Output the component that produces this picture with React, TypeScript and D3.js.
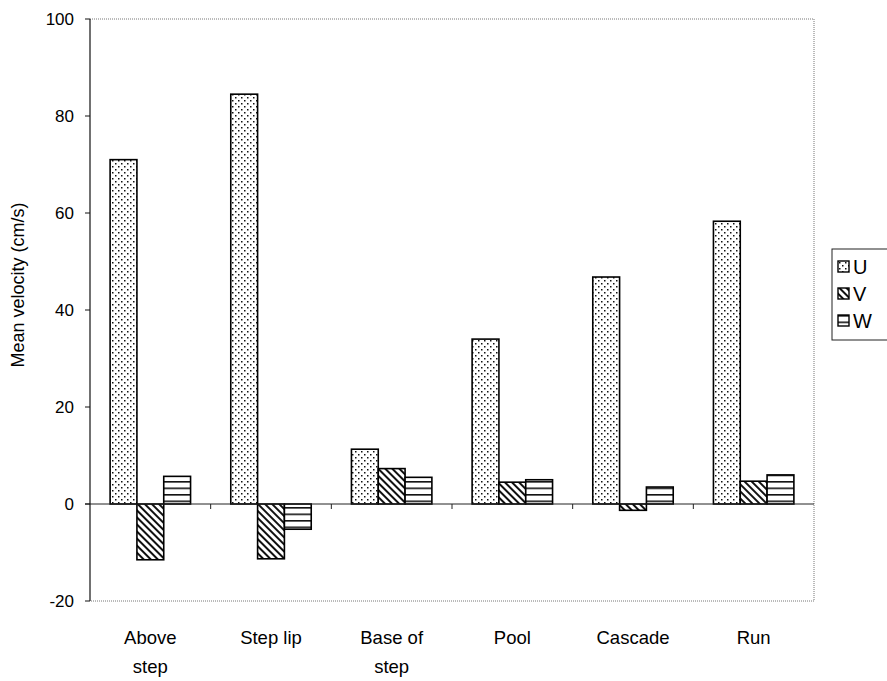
import React from "react";
import * as d3 from "d3";

const categories = ["Above step", "Step lip", "Base of step", "Pool", "Cascade", "Run"];
const categoryLines = [["Above", "step"], ["Step lip"], ["Base of", "step"], ["Pool"], ["Cascade"], ["Run"]];
const seriesNames = ["U", "V", "W"];
const uValues = [71, 84.5, 11.3, 34, 46.8, 58.3];
const vValues = [-11.5, -11.3, 7.3, 4.5, -1.3, 4.7];
const wValues = [5.7, -5.2, 5.5, 5.0, 3.5, 6.0];
const yTicks = [-20, 0, 20, 40, 60, 80, 100];

const W = 887;
const H = 681;
const plot = { left: 90, right: 814, top: 19, bottom: 601 };

export default function App() {
  const x = d3.scaleBand<string>().domain(categories).range([plot.left, plot.right]).padding(0);
  const xs = d3
    .scaleBand<string>()
    .domain(seriesNames)
    .range([0, x.bandwidth()])
    .paddingInner(0)
    .paddingOuter(0.75);
  const y = d3.scaleLinear().domain([-20, 100]).range([plot.bottom, plot.top]);
  const values = [uValues, vValues, wValues];
  const fills = ["url(#patU)", "url(#patV)", "url(#patW)"];
  const font = "'Liberation Sans', Arial, sans-serif";
  const y0 = y(0);

  return (
    <svg
      width={W}
      height={H}
      style={{ position: "absolute", left: 0, top: 0, background: "#fff" }}
      fontFamily={font}
    >
      <defs>
        <pattern id="patU" width="6" height="6" patternUnits="userSpaceOnUse">
          <rect width="6" height="6" fill="#fff" />
          <rect x="1" y="1" width="1.5" height="1.5" fill="#111" />
          <rect x="4" y="4" width="1.5" height="1.5" fill="#111" />
        </pattern>
        <pattern id="patV" width="5" height="5" patternUnits="userSpaceOnUse" patternTransform="rotate(-45)">
          <rect width="5" height="5" fill="#fff" />
          <rect x="0" y="0" width="2" height="5" fill="#111" />
        </pattern>
        <pattern id="patW" width="6" height="6.5" patternUnits="userSpaceOnUse" y="0">
          <rect width="6" height="6.5" fill="#fff" />
          <rect x="0" y="0" width="6" height="1.6" fill="#111" />
        </pattern>
      </defs>

      {/* plot border (dotted) */}
      <path
        d={`M${plot.left},${plot.top}H${plot.right}V${plot.bottom}H${plot.left}`}
        fill="none"
        stroke="#777"
        strokeWidth={1}
        strokeDasharray="1,1"
      />

      {/* bars */}
      {categories.map((c, ci) =>
        seriesNames.map((s, si) => {
          const v = values[si][ci];
          const bx = (x(c) as number) + (xs(s) as number);
          const top = Math.min(y(v), y0);
          const h = Math.abs(y(v) - y0);
          return (
            <rect
              key={c + s}
              x={bx}
              y={top}
              width={xs.bandwidth()}
              height={h}
              fill={fills[si]}
              stroke="#000"
              strokeWidth={1.6}
            />
          );
        })
      )}

      {/* zero line */}
      <line x1={plot.left - 5} x2={plot.right} y1={y0} y2={y0} stroke="#222" strokeWidth={1} />
      {categories.slice(1).map((c) => (
        <line key={c} x1={x(c) as number} x2={x(c) as number} y1={y0} y2={y0 + 5} stroke="#222" strokeWidth={1} />
      ))}

      {/* y axis */}
      <line x1={plot.left} x2={plot.left} y1={plot.top} y2={plot.bottom} stroke="#111" strokeWidth={1.2} />
      {yTicks.map((t) => (
        <g key={t}>
          <line x1={plot.left - 5} x2={plot.left} y1={y(t)} y2={y(t)} stroke="#111" strokeWidth={1} />
          <text x={plot.left - 16} y={y(t)} dy="0.35em" textAnchor="end" fontSize={17} fill="#000">
            {t}
          </text>
        </g>
      ))}
      <text
        transform={`translate(24,${(plot.top + plot.bottom) / 2 - 25}) rotate(-90)`}
        textAnchor="middle"
        fontSize={18}
        fill="#000"
      >
        Mean velocity (cm/s)
      </text>

      {/* category labels */}
      {categories.map((c, ci) => (
        <text key={c} textAnchor="middle" fontSize={18.5} fill="#000">
          {categoryLines[ci].map((line, li) => (
            <tspan key={li} x={(x(c) as number) + x.bandwidth() / 2} y={644 + li * 29}>
              {line}
            </tspan>
          ))}
        </text>
      ))}

      {/* legend */}
      <rect x={832} y={249} width={70} height={91} fill="#fff" stroke="#222" strokeWidth={1} />
      {seriesNames.map((s, si) => (
        <g key={s} transform={`translate(838,${261 + si * 27})`}>
          <rect x={0} y={0} width={11} height={11} fill={fills[si]} stroke="#000" strokeWidth={1.4} />
          <text x={15} y={5.5} dy="0.36em" fontSize={20} fill="#000">
            {s}
          </text>
        </g>
      ))}
    </svg>
  );
}
